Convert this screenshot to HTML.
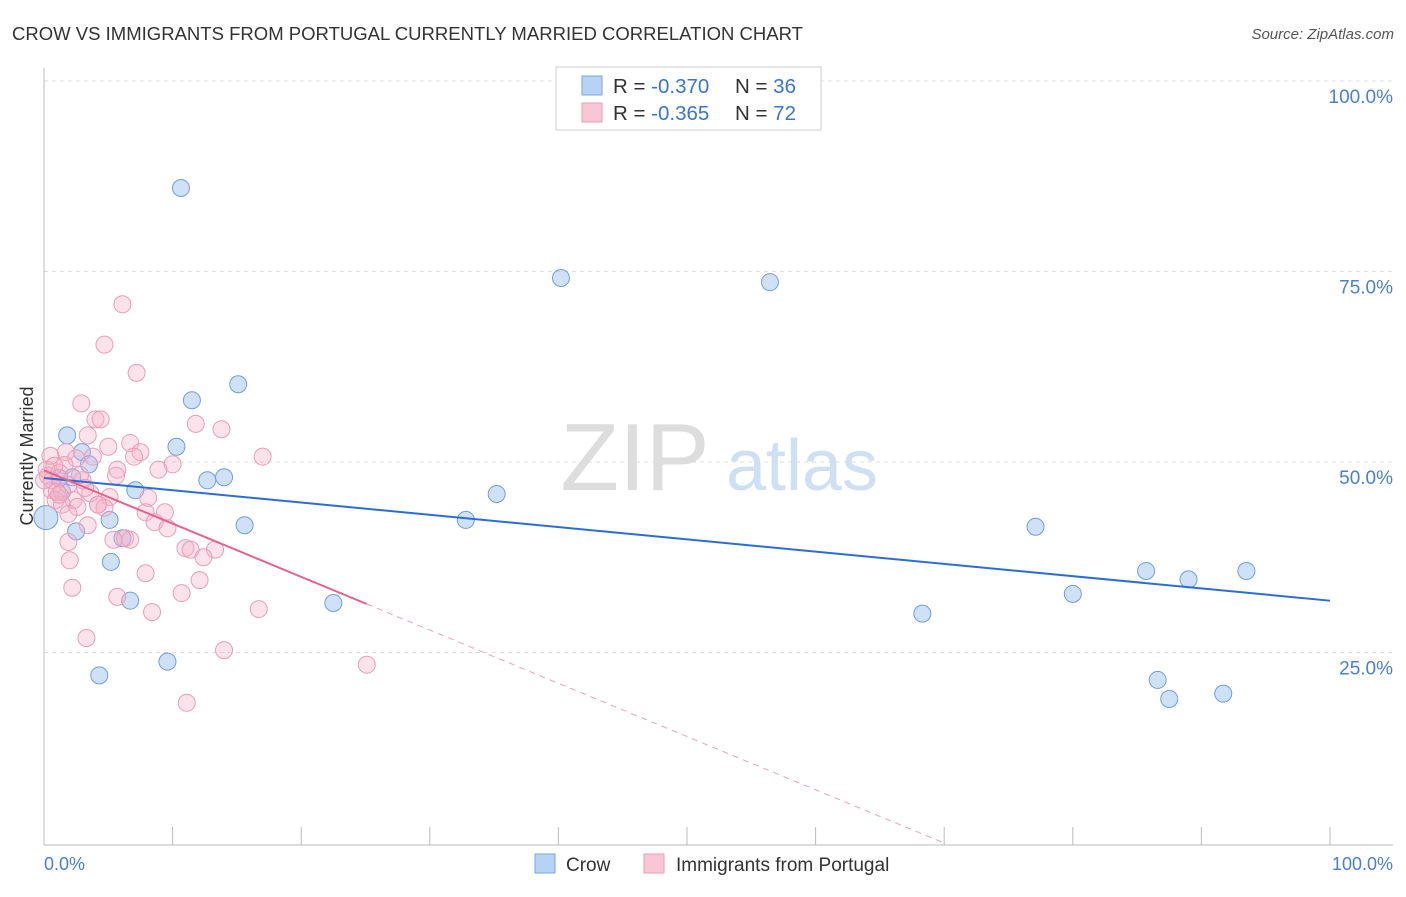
<!DOCTYPE html>
<html><head><meta charset="utf-8"><style>
body{margin:0;background:#fff;font-family:"Liberation Sans",sans-serif}
svg text{font-family:"Liberation Sans",sans-serif}
</style></head><body>
<svg id="c" width="1406" height="892">
<text x="12" y="40" font-size="18" fill="#333" textLength="791" lengthAdjust="spacingAndGlyphs">CROW VS IMMIGRANTS FROM PORTUGAL CURRENTLY MARRIED CORRELATION CHART</text>
<text x="1394" y="39" font-size="15" fill="#555" font-style="italic" text-anchor="end">Source: ZipAtlas.com</text>
<g id="grid"></g>
<text x="635" y="490" font-size="96" fill="#ddd" font-family="Liberation Serif" text-anchor="middle">ZIP</text>
<text x="802" y="490" font-size="72" fill="#cfe0f5" text-anchor="middle">atlas</text>
<line x1="44" y1="68" x2="44" y2="845" stroke="#bbb"/>
<line x1="44" y1="845" x2="1393" y2="845" stroke="#bbb"/>
<g id="ticks"></g>
<g id="pts"></g>
<g id="lines"></g>
<text transform="translate(33,456) rotate(-90)" font-size="18" fill="#333" text-anchor="middle">Currently Married</text>
<text x="44" y="870" font-size="18" fill="#4a7fd4">0.0%</text>
<text x="1393" y="870" font-size="18" fill="#4a7fd4" text-anchor="end">100.0%</text>
<g>
<rect x="556" y="67" width="265" height="63" fill="#fff" stroke="#ccc"/>
<rect x="582" y="76" width="20" height="19" fill="#b7d2f4" stroke="#7aa6e4"/>
<rect x="582" y="103" width="20" height="19" fill="#f9c6d6" stroke="#ec9db7"/>
<text x="613" y="93" font-size="20.5" fill="#333">R = <tspan fill="#3a74d6">-0.370</tspan><tspan x="735">N = </tspan><tspan fill="#3a74d6">36</tspan></text>
<text x="613" y="120" font-size="20.5" fill="#333">R = <tspan fill="#3a74d6">-0.365</tspan><tspan x="735">N = </tspan><tspan fill="#3a74d6">72</tspan></text>
</g>
<g>
<rect x="535" y="854" width="20" height="19" fill="#b7d2f4" stroke="#7aa6e4"/>
<text x="566" y="871" font-size="19" fill="#333">Crow</text>
<rect x="644" y="854" width="20" height="19" fill="#f9c6d6" stroke="#ec9db7"/>
<text x="676" y="871" font-size="19" fill="#333">Immigrants from Portugal</text>
</g>
</svg>
<script>
const yTicks=[100,75,50,25];
const yTickLabels=["100.0%","75.0%","50.0%","25.0%"];
const xTickVals=[0,10,20,30,40,50,60,70,80,90,100];
const crowX=[10.65,40.2,56.45,15.1,11.5,1.8,10.3,2.95,3.5,12.7,14.0,2.2,7.1,35.2,1.4,5.1,32.8,15.6,77.1,2.5,6.1,5.2,85.7,89.0,93.5,80.0,6.7,22.5,68.3,9.6,4.3,86.6,87.5,91.7,0.15,1.2];
const crowY=[85.96,74.15,73.6,60.2,58.1,53.5,52.0,51.3,49.7,47.6,48.0,48.0,46.3,45.8,46.1,42.4,42.4,41.7,41.5,40.9,40.0,36.9,35.7,34.6,35.7,32.7,31.8,31.5,30.1,23.8,22.0,21.4,18.9,19.6,42.7,47.9];
const porX=[6.1,4.7,7.2,2.9,4.0,4.4,3.4,6.7,1.7,5.0,7.5,2.5,0.5,3.8,5.7,7.0,10.0,8.9,11.8,13.8,17.0,3.0,1.2,0.3,1.6,1.9,0.6,3.6,0.9,2.3,5.1,8.1,1.4,2.6,4.2,4.7,9.4,7.9,1.9,3.4,8.6,9.6,6.3,6.7,1.9,11.0,11.4,13.3,12.4,2.0,7.9,12.1,5.7,10.7,2.2,8.4,16.7,3.3,14.0,25.1,11.1,5.6,0.6,1.0,0.0,1.2,5.4,2.8,0.2,0.8,3.2,4.2];
const porY=[70.7,65.4,61.7,57.7,55.6,55.6,53.5,52.5,51.3,52.0,51.3,50.5,50.8,50.7,49.0,50.7,49.7,49.0,55.0,54.3,50.7,47.6,48.6,48.2,49.6,47.0,46.3,45.9,45.0,45.0,45.4,45.3,44.4,44.1,44.4,44.0,43.4,43.4,43.2,41.7,42.1,41.3,40.0,39.8,39.5,38.7,38.5,38.5,37.5,37.1,35.4,34.5,32.3,32.8,33.5,30.3,30.7,26.9,25.3,23.4,18.4,48.2,47.6,46.1,47.6,45.7,39.8,48.3,49.0,49.5,46.6,44.4];
const crowTrend=[47.9,31.8];
const porTrend=[48.9,-0.6986];
const porSolidEnd=25.1;
const NS="http://www.w3.org/2000/svg";
const X=v=>44+v*12.86, Y=v=>843-v*7.62;
function mk(t,a,p){const e=document.createElementNS(NS,t);for(const k in a)e.setAttribute(k,a[k]);document.getElementById(p).appendChild(e);return e;}
yTicks.forEach((t,i)=>{
 const l=mk('line',{x1:44,x2:1393,y1:Y(t),y2:Y(t),stroke:'#ddd','stroke-dasharray':'4,4'},'grid');
 
 
 const tx=mk('text',{x:1393,y:Y(t)+22,'font-size':19,fill:'#4a7fd4','text-anchor':'end'},'grid');
 tx.textContent=yTickLabels[i];
 
 
});
xTickVals.forEach(v=>{
 const l=mk('line',{x1:X(v),x2:X(v),y1:827,y2:845,stroke:'#bbb'},'ticks');
 
 
});
crowX.forEach((x,i)=>{
 const c=mk('circle',{cx:X(x),cy:Y(crowY[i]),r:i==34?12:8.5,fill:'rgba(160,196,240,0.5)',stroke:'#6f9fe0','stroke-width':1},'pts');
 
 
});
porX.forEach((x,i)=>{
 const c=mk('circle',{cx:X(x),cy:Y(porY[i]),r:8.5,fill:'rgba(246,175,198,0.35)',stroke:'#ec9db7','stroke-width':1},'pts');
 
 
});
const bl=mk('line',{x1:X(0),y1:Y(crowTrend[0]),x2:X(100),y2:Y(crowTrend[1]),stroke:'#2a6dd8','stroke-width':2},'lines');


const pe=porTrend[0]+porTrend[1]*porSolidEnd, x0=-porTrend[0]/porTrend[1];
const pl=mk('line',{x1:X(0),y1:Y(porTrend[0]),x2:X(porSolidEnd),y2:Y(pe),stroke:'#e8608e','stroke-width':2},'lines');


const pd=mk('line',{x1:X(porSolidEnd),y1:Y(pe),x2:X(x0),y2:Y(0),stroke:'#eea0bb','stroke-width':1,'stroke-dasharray':'6,5'},'lines');


</script>
</body></html>
